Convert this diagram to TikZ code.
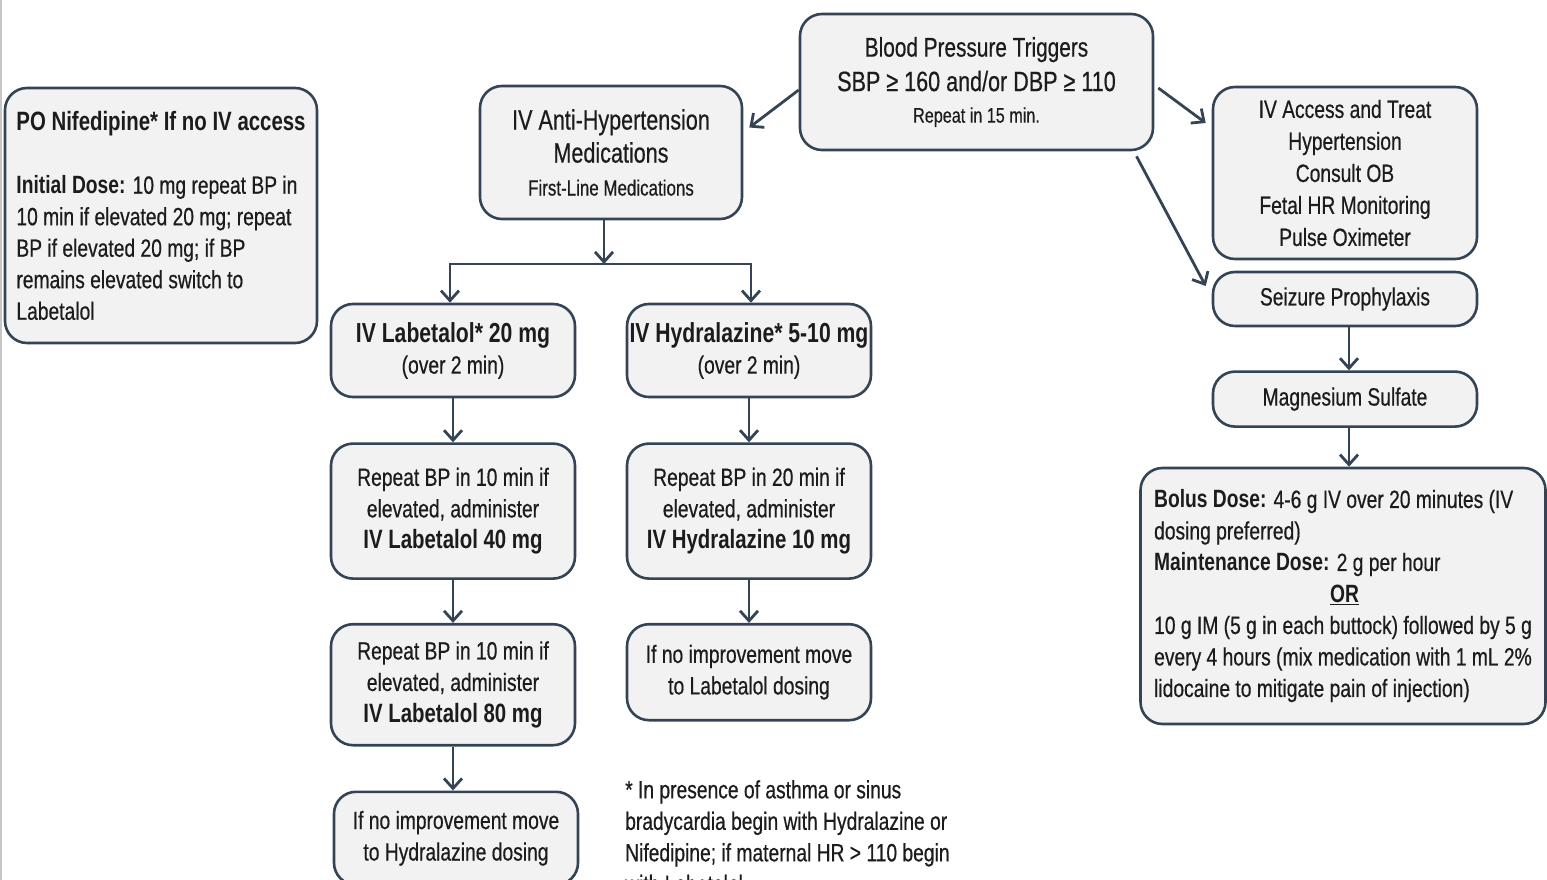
\documentclass[tikz,border=0pt]{standalone}
\usepackage{fontspec}
\setmainfont{Liberation Sans}[FakeStretch=0.77, UprightFeatures={FakeBold=0.5}]
\usetikzlibrary{arrows.meta, positioning}

\definecolor{edgeslate}{RGB}{52,68,84}
\definecolor{boxgray}{RGB}{242,242,242}
\definecolor{inkblack}{RGB}{28,28,28}
\newcommand{\bodysize}{\fontsize{25}{31.5}\selectfont}
\newcommand{\smallsize}{\fontsize{22}{31}\selectfont}
\newcommand{\headsize}{\fontsize{26.5}{31.5}\selectfont}

\begin{document}
\begin{tikzpicture}[
    x=1pt, y=-1pt,
    node distance=44pt,
    medbox/.style={rectangle, draw=edgeslate, fill=boxgray, line width=2.6pt, rounded corners=22pt, align=center, text=inkblack, font=\bodysize, minimum width=244pt, inner sep=2pt},
    notebox/.style={medbox, align=left},
    arrow/.style={draw=edgeslate, line width=2.8pt, -{Straight Barb[length=10pt,width=18pt]}},
    link/.style={draw=edgeslate, line width=2.8pt}
]
\useasboundingbox (0,0) rectangle (1547,880);
\draw[gray!45, line width=1.5pt] (1,0) -- (1,880);

% top row
\node (trigger) [medbox, minimum width=353pt, minimum height=136pt] at (976.5,82)
    {{\fontsize{27}{34}\selectfont Blood Pressure Triggers}\\[3pt]
     {\fontsize{28}{32}\selectfont SBP ≥ 160 and/or DBP ≥ 110}\\
     {\fontsize{21}{31}\selectfont Repeat in 15 min.}};
\node (ivmeds) [medbox, minimum width=262pt, minimum height=133pt, font=\fontsize{28}{33}\selectfont] at (611,152.5)
    {IV Anti-Hypertension\\ Medications\\ {\smallsize First-Line Medications}};
\node (nifedipine) [notebox, minimum width=312pt, minimum height=255pt] at (161,215.5)
    {{\headsize\textbf{PO Nifedipine* If no IV access}}\\[32pt]
     \textbf{Initial Dose:} 10 mg repeat BP in\\
     10 min if elevated 20 mg; repeat\\
     BP if elevated 20 mg; if BP\\
     remains elevated switch to\\
     Labetalol};
\node (access) [medbox, minimum width=264pt, minimum height=172pt, font=\fontsize{25}{32}\selectfont] at (1345,173)
    {IV Access and Treat\\ Hypertension\\ Consult OB\\ Fetal HR Monitoring\\ Pulse Oximeter};
\node (seizure) [medbox, minimum width=264pt, minimum height=54pt] at (1345,299) {Seizure Prophylaxis};
\node (magnesium) [medbox, minimum width=264pt, minimum height=55pt, below=43pt of seizure] {Magnesium Sulfate};
\node (bolus) [notebox, minimum width=405pt, minimum height=256pt] at (1343,596)
    {\textbf{Bolus Dose:} 4-6 g IV over 20 minutes (IV\\
     dosing preferred)\\
     \textbf{Maintenance Dose:} 2 g per hour\\
     \hspace*{176pt}\underline{\textbf{OR}}\\
     10 g IM (5 g in each buttock) followed by 5 g\\
     every 4 hours (mix medication with 1 mL 2\%\\
     lidocaine to mitigate pain of injection)};

% labetalol branch
\node (lab1) [medbox, minimum height=93pt] at (453,350.5)
    {{\fontsize{27.5}{32}\selectfont\textbf{IV Labetalol* 20 mg}}\\ (over 2 min)};
\node (lab2) [medbox, minimum height=135pt, below=of lab1]
    {Repeat BP in 10 min if\\ elevated, administer\\ {\headsize\textbf{IV Labetalol 40 mg}}};
\node (lab3) [medbox, minimum height=121pt, below=43pt of lab2]
    {Repeat BP in 10 min if\\ elevated, administer\\ {\headsize\textbf{IV Labetalol 80 mg}}};
\node (lab4) [medbox, minimum height=93pt, below=44pt of lab3, xshift=3pt]
    {If no improvement move\\ to Hydralazine dosing};

% hydralazine branch
\node (hyd1) [medbox, minimum height=93pt] at (749,350.5)
    {{\fontsize{27.5}{32}\selectfont\textbf{IV Hydralazine* 5-10 mg}}\\ (over 2 min)};
\node (hyd2) [medbox, minimum height=135pt, below=of hyd1]
    {Repeat BP in 20 min if\\ elevated, administer\\ {\headsize\textbf{IV Hydralazine 10 mg}}};
\node (hyd3) [medbox, minimum height=96pt, below=43pt of hyd2]
    {If no improvement move\\ to Labetalol dosing};

% footnote
\node (footnote) [anchor=north west, align=left, font=\bodysize, text=inkblack, inner sep=0pt] at (625,780)
    {* In presence of asthma or sinus\\
     bradycardia begin with Hydralazine or\\
     Nifedipine; if maternal HR > 110 begin\\
     with Labetalol};

\coordinate (split) at (604,264);

\draw [arrow] ([yshift=-8pt]trigger.west) -- ([xshift=6pt,yshift=25pt]ivmeds.east);
\draw [arrow] ([xshift=4pt,yshift=-6pt]trigger.east) -- ([xshift=-6pt,yshift=50pt]access.west);
\draw [arrow] ([xshift=160pt,yshift=-5pt]trigger.south) -- ([xshift=-6pt,yshift=13pt]seizure.west);
\draw [arrow] (ivmeds.south -| split) -- (split);
\draw [arrow] (split) -| ([xshift=-3pt]lab1.north);
\draw [arrow] (split) -| ([xshift=2pt]hyd1.north);
\draw [arrow] (lab1) -- (lab2);
\draw [arrow] (lab2) -- (lab3);
\draw [arrow] (lab3.south) -- (lab3.south |- lab4.north);
\draw [arrow] (hyd1) -- (hyd2);
\draw [arrow] (hyd2) -- (hyd3);
\draw [arrow] ([xshift=4pt]seizure.south) -- ([xshift=4pt]magnesium.north);
\draw [arrow] ([xshift=4pt]magnesium.south) -- ([xshift=4pt]magnesium.south |- bolus.north);
\end{tikzpicture}
\end{document}
